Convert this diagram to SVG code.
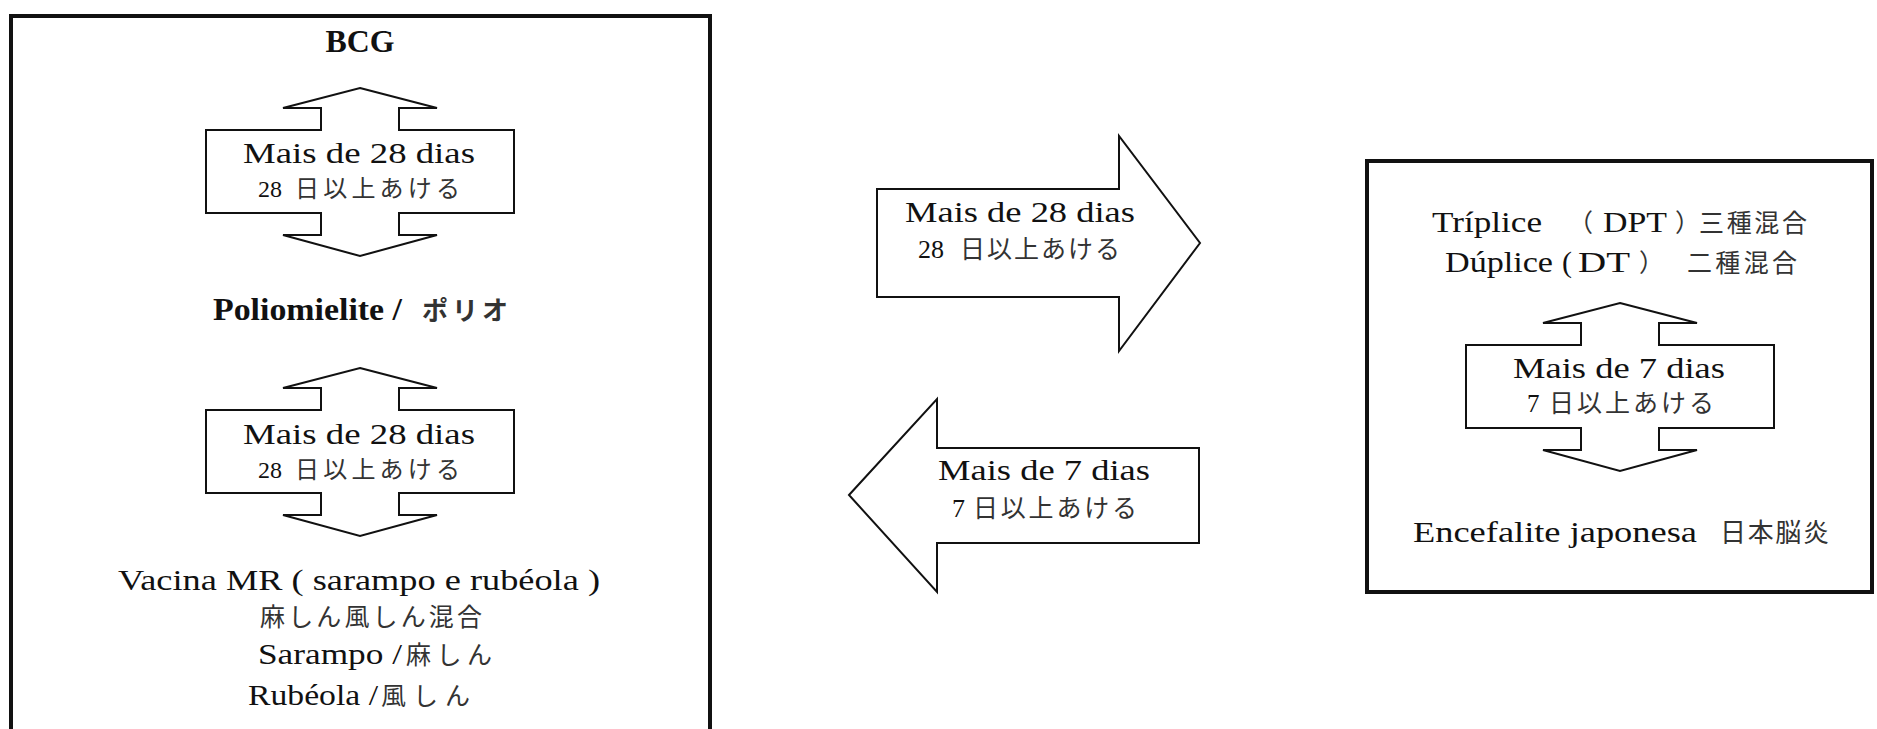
<svg xmlns="http://www.w3.org/2000/svg" xmlns:xlink="http://www.w3.org/1999/xlink" width="1877" height="729" viewBox="0 0 1877 729">
  <style>
    .box { fill: #fff; stroke: #111; stroke-width: 4; }
    .shape { fill: #fff; stroke: #111; stroke-width: 2; stroke-linejoin: miter; }
    .lat { font-family: "Liberation Serif", "Times New Roman", serif; font-size: 30px; fill: #111; }
    .latb { font-family: "Liberation Serif", "Times New Roman", serif; font-size: 31px; font-weight: bold; fill: #111; }
    .dig { font-family: "Liberation Serif", "Times New Roman", serif; fill: #111; }
    .jp { font-family: "Noto Sans CJK JP", "Noto Sans CJK SC", sans-serif; fill: #333; }
  </style>
  <defs>
    <!-- vertical double-headed block arrow, origin at the upper tip -->
    <path id="dbl-arrow" d="M0,0 L77,20 L39,20 L39,42 L154,42 L154,125 L39,125 L39,147 L77,147 L0,168 L-77,147 L-39,147 L-39,125 L-154,125 L-154,42 L-39,42 L-39,20 L-77,20 Z"/>
  </defs>

  <rect width="1877" height="729" fill="#fff"/>

  <!-- left panel: BCG, polio, MR -->
  <g id="left-panel">
    <rect class="box" x="11" y="16" width="699" height="740"/>
    <text class="latb" x="360" y="52" text-anchor="middle" font-size="30" textLength="69" lengthAdjust="spacingAndGlyphs">BCG</text>

    <g id="gap-bcg-polio">
      <use href="#dbl-arrow" class="shape" x="360" y="88"/>
      <text class="lat" x="243" y="163" textLength="232" lengthAdjust="spacingAndGlyphs">Mais de 28 dias</text>
      <text class="dig" x="258" y="197" font-size="24">28</text>
      <text class="jp" x="295" y="197" font-size="24" textLength="165">日以上あける</text>
    </g>

    <text class="latb" x="213" y="320" textLength="189" lengthAdjust="spacingAndGlyphs">Poliomielite /</text>
    <text class="jp" x="422" y="320" font-size="26" font-weight="bold" textLength="86">ポリオ</text>

    <g id="gap-polio-mr">
      <use href="#dbl-arrow" class="shape" x="360" y="368"/>
      <text class="lat" x="243" y="444" textLength="232" lengthAdjust="spacingAndGlyphs">Mais de 28 dias</text>
      <text class="dig" x="258" y="478" font-size="24">28</text>
      <text class="jp" x="295" y="478" font-size="24" textLength="165">日以上あける</text>
    </g>

    <text class="lat" x="118" y="590" textLength="482" lengthAdjust="spacingAndGlyphs">Vacina MR ( sarampo e rubéola )</text>
    <text class="jp" x="260" y="626" font-size="25" textLength="222">麻しん風しん混合</text>
    <text class="lat" x="258" y="664" textLength="144" lengthAdjust="spacingAndGlyphs">Sarampo /</text>
    <text class="jp" x="406" y="664" font-size="25" textLength="86">麻しん</text>
    <text class="lat" x="248" y="705" textLength="130" lengthAdjust="spacingAndGlyphs">Rubéola /</text>
    <text class="jp" x="381" y="705" font-size="25" textLength="89">風しん</text>
  </g>

  <!-- interval arrows between the two panels -->
  <g id="connectors">
    <g id="arrow-right">
      <polygon class="shape" points="877,189 1119,189 1119,136 1200,243 1119,351 1119,297 877,297"/>
      <text class="lat" x="905" y="222" textLength="230" lengthAdjust="spacingAndGlyphs">Mais de 28 dias</text>
      <text class="dig" x="918" y="258" font-size="26">28</text>
      <text class="jp" x="960" y="258" font-size="25" textLength="160">日以上あける</text>
    </g>
    <g id="arrow-left">
      <polygon class="shape" points="849,495 937,399 937,448 1199,448 1199,543 937,543 937,592"/>
      <text class="lat" x="938" y="480" textLength="212" lengthAdjust="spacingAndGlyphs">Mais de 7 dias</text>
      <text class="dig" x="952" y="517" font-size="26">7</text>
      <text class="jp" x="973" y="517" font-size="25" textLength="164">日以上あける</text>
    </g>
  </g>

  <!-- right panel: DPT / DT and Japanese encephalitis -->
  <g id="right-panel">
    <rect class="box" x="1367" y="161" width="505" height="431" stroke-width="3.5"/>

    <text class="lat" x="1432" y="232" textLength="110" lengthAdjust="spacingAndGlyphs">Tríplice</text>
    <text class="jp" x="1568" y="232" font-size="25">（</text>
    <text class="lat" x="1603" y="232" textLength="64" lengthAdjust="spacingAndGlyphs">DPT</text>
    <text class="jp" x="1675" y="232" font-size="25">）</text>
    <text class="jp" x="1699" y="232" font-size="25" textLength="108">三種混合</text>

    <text class="lat" x="1445" y="272" textLength="108" lengthAdjust="spacingAndGlyphs">Dúplice</text>
    <text class="lat" x="1562" y="272">(</text>
    <text class="lat" x="1578" y="272" textLength="52" lengthAdjust="spacingAndGlyphs">DT</text>
    <text class="jp" x="1639" y="272" font-size="25">）</text>
    <text class="jp" x="1687" y="272" font-size="25" textLength="110">二種混合</text>

    <g id="gap-dpt">
      <use href="#dbl-arrow" class="shape" x="1620" y="303"/>
      <text class="lat" x="1513" y="378" textLength="212" lengthAdjust="spacingAndGlyphs">Mais de 7 dias</text>
      <text class="dig" x="1527" y="412" font-size="25">7</text>
      <text class="jp" x="1549" y="412" font-size="25" textLength="165">日以上あける</text>
    </g>

    <text class="lat" x="1413" y="542" textLength="284" lengthAdjust="spacingAndGlyphs">Encefalite japonesa</text>
    <text class="jp" x="1720" y="542" font-size="26" textLength="109">日本脳炎</text>
  </g>
</svg>
